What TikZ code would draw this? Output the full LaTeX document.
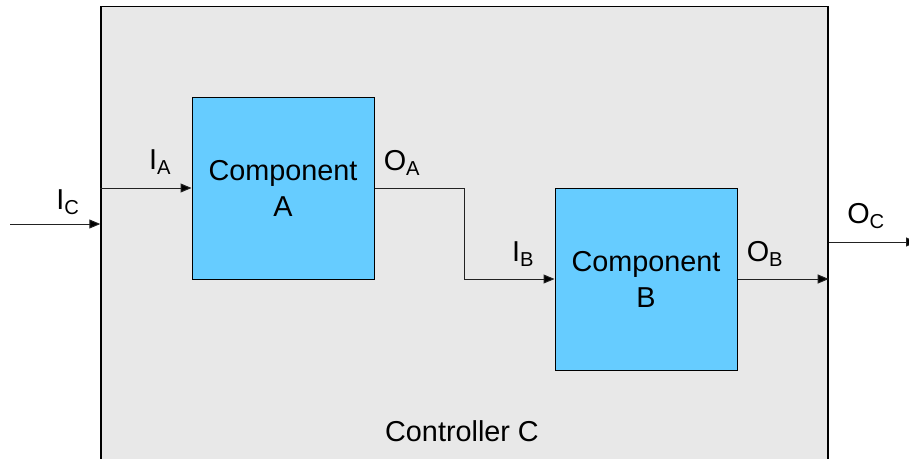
\documentclass[tikz,border=0pt]{standalone}
\usepackage{fontspec}
\setmainfont{Liberation Sans}
\usetikzlibrary{
    arrows.meta,
    positioning,
    calc
}
\definecolor{ctrlgray}{HTML}{E8E8E8}
\definecolor{compblue}{HTML}{66CCFF}
\definecolor{wiregray}{HTML}{222222}
\tikzset{
    % --- Outer controller boundary ---
    controller/.style = {
        rectangle, draw, line width=1.4pt, fill=ctrlgray,
        minimum width=727pt, minimum height=470pt, inner sep=0pt
    },
    % --- Component block ---
    component/.style = {
        rectangle, draw, line width=1pt, fill=compblue,
        minimum width=182pt, minimum height=182pt,
        align=center, font=\fontsize{28.8}{36}\selectfont
    },
    % --- Port label (signal names) ---
    port/.style = {
        font=\fontsize{28.8}{34}\selectfont, inner sep=0pt
    },
    % --- Plain wire ---
    wire/.style = {
        line width=1pt, draw=wiregray
    },
    % --- Data flow arrow ---
    data arrow/.style = {
        wire, -{Triangle[length=11pt,width=9pt,fill=black]}
    }
}
\begin{document}
\begin{tikzpicture}[x=1pt, y=-1pt]
\useasboundingbox (0,0) rectangle (909,458);

% ---------------------------------------------------------
% Controller and its components
% ---------------------------------------------------------
\node[controller, anchor=north] (ctrl) at (464.5,6) {};
\node[port] (ctrlLabel) at (462,431) {Controller C};

\node[component] (compA) at (283,188) {Component\\A};
\node[component] (compB) at (646,279) {Component\\B};

% ---------------------------------------------------------
% Wires
% ---------------------------------------------------------
\coordinate (icIn) at (10,224);
\coordinate (ocOut) at (917,242);
\coordinate (mid) at ($(compA.east)!0.5!(compB.west)$);

\draw[data arrow] (icIn) -- (icIn -| ctrl.west);
\draw[data arrow] (compA.west -| ctrl.west) -- (compA.west);
\draw[data arrow] (compA.east) -| (mid) |- (compB.west);
\draw[data arrow] (compB.east) -- (compB.east -| ctrl.east);
\draw[data arrow] (ocOut -| ctrl.east) -- (ocOut);

% ---------------------------------------------------------
% Signal labels
% ---------------------------------------------------------
\node[port] (lblIC) at (68,202) {I\textsubscript{C}};
\node[port] (lblIA) at (160,162) {I\textsubscript{A}};
\node[port] (lblOA) at (402,163) {O\textsubscript{A}};
\node[port] (lblIB) at (523,254) {I\textsubscript{B}};
\node[port] (lblOB) at (765,254) {O\textsubscript{B}};
\node[port] (lblOC) at (866,216) {O\textsubscript{C}};

\end{tikzpicture}
\end{document}
